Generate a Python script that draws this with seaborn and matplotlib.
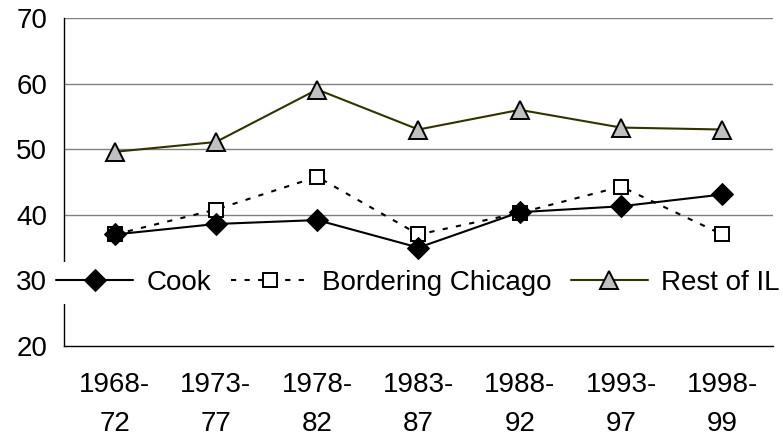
import numpy as np
import pandas as pd
import matplotlib
matplotlib.use("Agg")
import matplotlib.pyplot as plt
import seaborn as sns

# values
periods = ["1968-\n72", "1973-\n77", "1978-\n82", "1983-\n87", "1988-\n92", "1993-\n97", "1998-\n99"]
cook = [37.0, 38.6, 39.2, 35.0, 40.4, 41.3, 43.1]
bordering = [37.0, 40.8, 45.8, 37.0, 40.3, 44.3, 37.0]
rest_il = [49.6, 51.1, 59.1, 53.0, 56.0, 53.3, 53.0]
y_ticks = [20, 30, 40, 50, 60, 70]

sns.set_style("white")
plt.rcParams["font.family"] = ["Liberation Sans", "DejaVu Sans"]
FS = 20

fig = plt.figure(figsize=(7.83, 4.36), dpi=100)
ax = fig.add_axes([0.0817, 0.2064, 0.9055, 0.7523])

x = np.arange(len(periods))

sns.lineplot(x=x, y=cook, ax=ax, color="black", linewidth=1.5,
             marker="D", markersize=11, markerfacecolor="black",
             markeredgecolor="black", label="Cook", zorder=4)
sns.lineplot(x=x, y=bordering, ax=ax, color="black", linewidth=1.5,
             linestyle=(0, (2.5, 4)), marker="s", markersize=10.5,
             markerfacecolor="white", markeredgecolor="black",
             markeredgewidth=1.4, label="Bordering Chicago", zorder=3)
sns.lineplot(x=x, y=rest_il, ax=ax, color="#333300", linewidth=1.5,
             marker="^", markersize=12.5, markerfacecolor="#c0c0c0",
             markeredgecolor="black", markeredgewidth=1.4,
             label="Rest of IL", zorder=3)

ax.set_xlim(-0.5, len(periods) - 0.5)
ax.set_ylim(20, 70)
ax.set_yticks(y_ticks)
ax.set_xticks(x)
ax.set_xticklabels(periods)
ax.set_xticks(np.arange(-0.5, len(periods)), minor=True)
ax.tick_params(axis="x", which="major", length=0, labelsize=FS, pad=19)
ax.tick_params(axis="x", which="minor", length=7, width=1, color="black", direction="out")
ax.tick_params(axis="y", length=5, width=1, color="black", direction="out", labelsize=FS, pad=7)
for lab in ax.get_xticklabels():
    lab.set_linespacing(1.65)
    lab.set_color("black")
for lab in ax.get_yticklabels():
    lab.set_color("black")

for v in y_ticks[1:]:
    ax.axhline(v, color="#808080", linewidth=1, zorder=1)

for s in ["top", "right"]:
    ax.spines[s].set_visible(False)
for s in ["left", "bottom"]:
    ax.spines[s].set_color("black")
    ax.spines[s].set_linewidth(1)

ax.set_xlabel("")
ax.set_ylabel("")

leg = ax.legend(loc="center", bbox_to_anchor=(0.499, 0.192), ncol=3, fontsize=FS,
                frameon=True, fancybox=False, handlelength=2.8, handletextpad=0.47,
                columnspacing=0.7, borderpad=0.3, borderaxespad=0)
leg.get_frame().set_facecolor("white")
leg.get_frame().set_edgecolor("none")
leg.get_frame().set_alpha(1)
for t in leg.get_texts():
    t.set_color("black")

fig.savefig("out.png", dpi=100)
